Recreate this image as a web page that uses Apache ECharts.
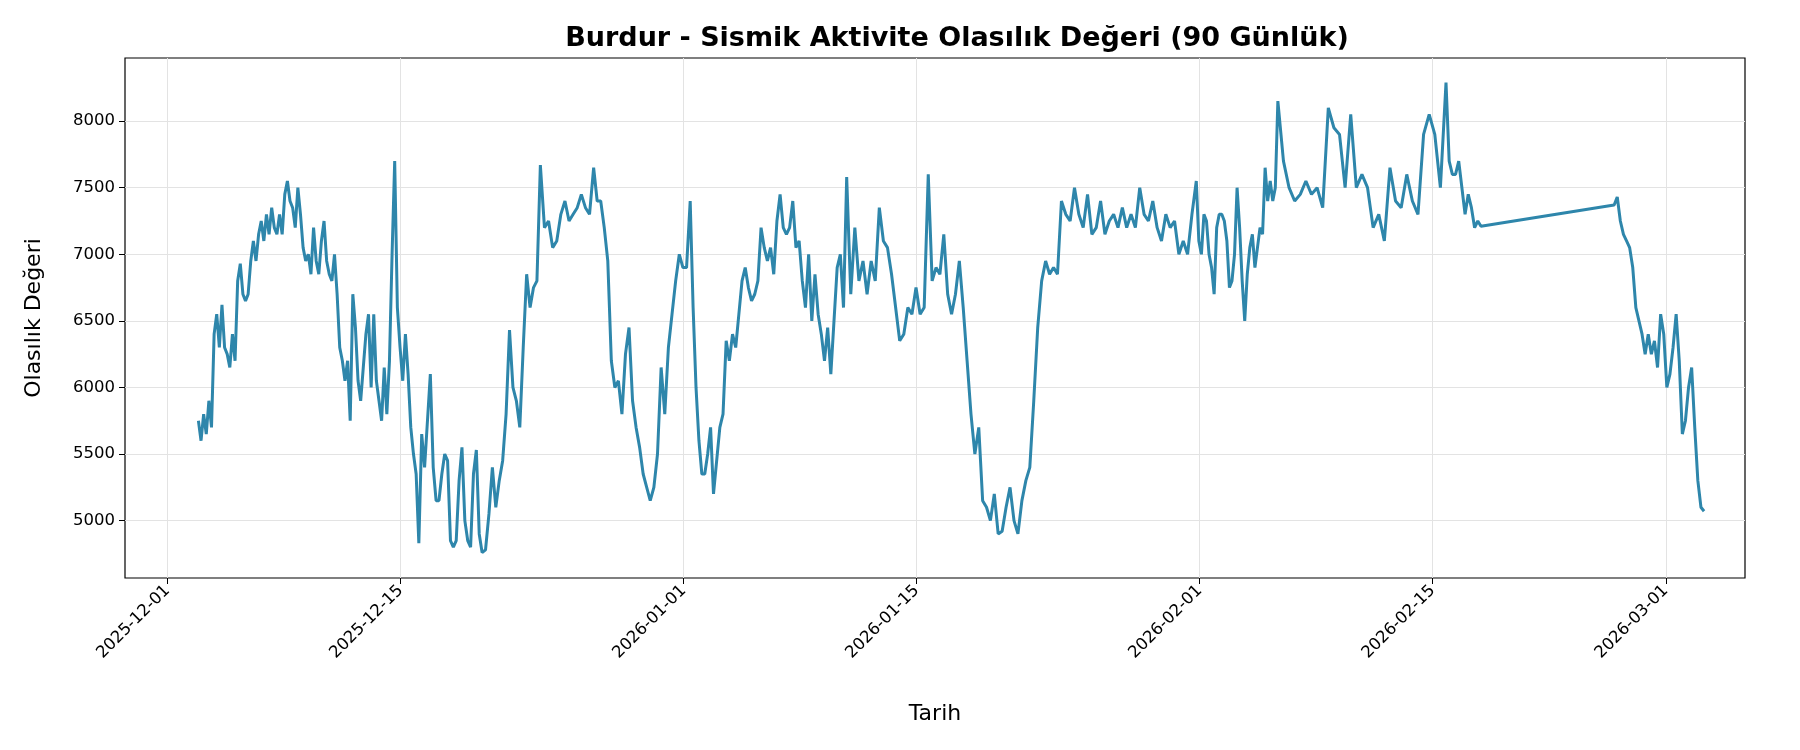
<!DOCTYPE html>
<html><head><meta charset="utf-8">
<script src="https://cdn.jsdelivr.net/npm/echarts@6/dist/echarts.min.js"></script>
<style>html,body{margin:0;padding:0;background:#fff}#c{width:1800px;height:750px}</style>
</head><body><div id="c"></div>
<script>
const titleText = 'Burdur - Sismik Aktivite Olasılık Değeri (90 Günlük)';
const xName = 'Tarih';
const yName = 'Olasılık Değeri';
const startDate = '2025-12-01';
const xTickDates = ['2025-12-01','2025-12-15','2026-01-01','2026-01-15','2026-02-01','2026-02-15','2026-03-01'];
const yTicks = [5000,5500,6000,6500,7000,7500,8000];
// segment boundaries in days after 2025-12-01
const segDays = [1.86,13.65,15.1,18.9,22.4,25.6,29.0,31.4,32.8,36.8,40.8,45.7,49.9,53.7,61.8,66.7,76.8,78.9,86.9,92.3];
const segValues = [
[5750,5600,5800,5650,5900,5700,6400,6550,6300,6620,6300,6250,6150,6400,6200,6800,6930,6700,6650,6700,6950,7100,6950,7150,7250,7100,7300,7150,7350,7200,7150,7300,7150,7450,7550,7400,7350,7200,7500,7300,7050,6950,7000,6850,7200,6950,6850,7100,7250,6950,6850,6800,7000,6700,6300,6200,6050,6200,5750,6700,6450,6050,5900,6150,6400,6550,6000,6550,6050,5900,5750,6150,5800,6200,7000],
[7700,6600,6300,6050,6400,6100,5700,5500,5350],
[4830,5650,5400,5750,6100,5400,5150,5150,5350,5500,5450,4850,4800,4850,5300,5550,5000,4850,4800,5350,5530,4900],
[4760,4780,5050,5400,5100,5300,5450,5800,6430,6000,5900,5700,6300,6850,6600,6750,6800],
[7670,7200,7250,7050,7100,7300,7400,7250,7300,7350,7450,7350,7300],
[7650,7400,7400,7200,6950,6200,6000,6050,5800,6250,6450,5900,5700,5550,5350,5250],
[5150,5250,5500,6150,5800,6300,6550,6800,7000,6900,6900],
[7400,6600,6000,5600,5350,5350,5500,5700],
[5200,5450,5700,5800,6350,6200,6400,6300,6550,6800,6900,6750,6650,6700,6800,7200,7050,6950,7050,6850,7250],
[7450,7200,7150,7200,7400,7050,7100,6800,6600,7000,6500,6850,6550,6400,6200,6450,6100,6500,6900,7000,6600],
[7580,6700,7200,6800,6950,6700,6950,6800,7350,7100,7050,6850,6600,6350,6400,6600,6550,6750,6550,6600],
[7600,6800,6900,6850,7150,6700,6550,6700,6950,6600,6200,5800,5500,5700,5150,5100,5000,5200],
[4900,4920,5100,5250,5000,4900,5150,5300,5400,5900,6450,6800,6950,6850,6900,6850],
[7400,7300,7250,7500,7300,7200,7450,7150,7200,7400,7150,7250,7300,7200,7350,7200,7300,7200,7500,7300,7250,7400,7200,7100,7300,7200,7250,7000,7100,7000,7300],
[7550,7100,7000,7300,7250,7000,6900,6700,7200,7300,7300,7250,7100,6750,6800,7000,7500,7200,6800,6500,6850,7050,7150,6900,7050,7200,7150,7650,7400,7550,7400,7500],
[8150,7700,7500,7400,7450,7550,7450,7500,7350,8100,7950,7900,7500,8050,7500,7600,7500,7200,7300,7100,7650,7400,7350,7600,7400,7300,7900,8050,7900,7500],
[8290,7700,7600,7600,7700,7500,7300,7450,7350,7200,7250],
[7210],
[7370,7430,7250,7150,7100,7050,6900,6600,6500,6400,6250,6400,6250,6350,6150,6550,6400,6000,6100,6300,6550,6200,5650,5750,6000,6150,5700,5300,5100,5070]
];
const DAY = 86400000;
const base = Date.parse(startDate + 'T00:00:00Z');
const data = [];
segValues.forEach((vals, s) => {
  const a = segDays[s], b = segDays[s + 1];
  const last = s === segValues.length - 1;
  const n = last ? vals.length - 1 : vals.length;
  vals.forEach((v, i) => data.push([base + (a + (b - a) * i / n) * DAY, v]));
});
const xTicks = xTickDates.map(d => Date.parse(d + 'T00:00:00Z'));
const fmt = v => new Date(v).toISOString().slice(0, 10);
const chart = echarts.init(document.getElementById('c'), null, {renderer: 'canvas'});
const font = 'DejaVu Sans';
chart.setOption({
  animation: false,
  title: {text: titleText, left: 952, textAlign: 'center', top: 20, textStyle: {fontFamily: font, fontSize: 27, fontWeight: 'bold', color: '#000'}},
  grid: {left: 125, right: 55, top: 58, bottom: 172, show: true, borderColor: '#000', borderWidth: 1.2, containLabel: false},
  xAxis: {
    type: 'value', min: base - 2.55 * DAY, max: base + 94.76 * DAY,
    name: xName, nameLocation: 'middle', nameGap: 125, nameTextStyle: {fontFamily: font, fontSize: 22, color: '#000'},
    axisLine: {show: false},
    axisTick: {show: true, customValues: xTicks, length: 6, lineStyle: {color: '#000'}},
    axisLabel: {customValues: xTicks, rotate: 45, formatter: fmt, fontFamily: font, fontSize: 16.5, color: '#000', margin: 10},
    splitLine: {show: true, lineStyle: {color: '#e3e3e3', width: 1}}
  },
  yAxis: {
    type: 'value', min: 4569, max: 8474,
    name: yName, nameLocation: 'middle', nameGap: 80, nameTextStyle: {fontFamily: font, fontSize: 22, color: '#000'},
    axisLine: {show: false},
    axisTick: {show: true, customValues: yTicks, length: 6, lineStyle: {color: '#000'}},
    axisLabel: {customValues: yTicks, formatter: v => String(v), fontFamily: font, fontSize: 16.5, color: '#000', margin: 10},
    splitLine: {show: true, lineStyle: {color: '#e3e3e3', width: 1}}
  },
  series: [{type: 'line', data: data, showSymbol: false, lineStyle: {color: '#2e86ab', width: 3}, itemStyle: {color: '#2e86ab'}}]
});
</script></body></html>
